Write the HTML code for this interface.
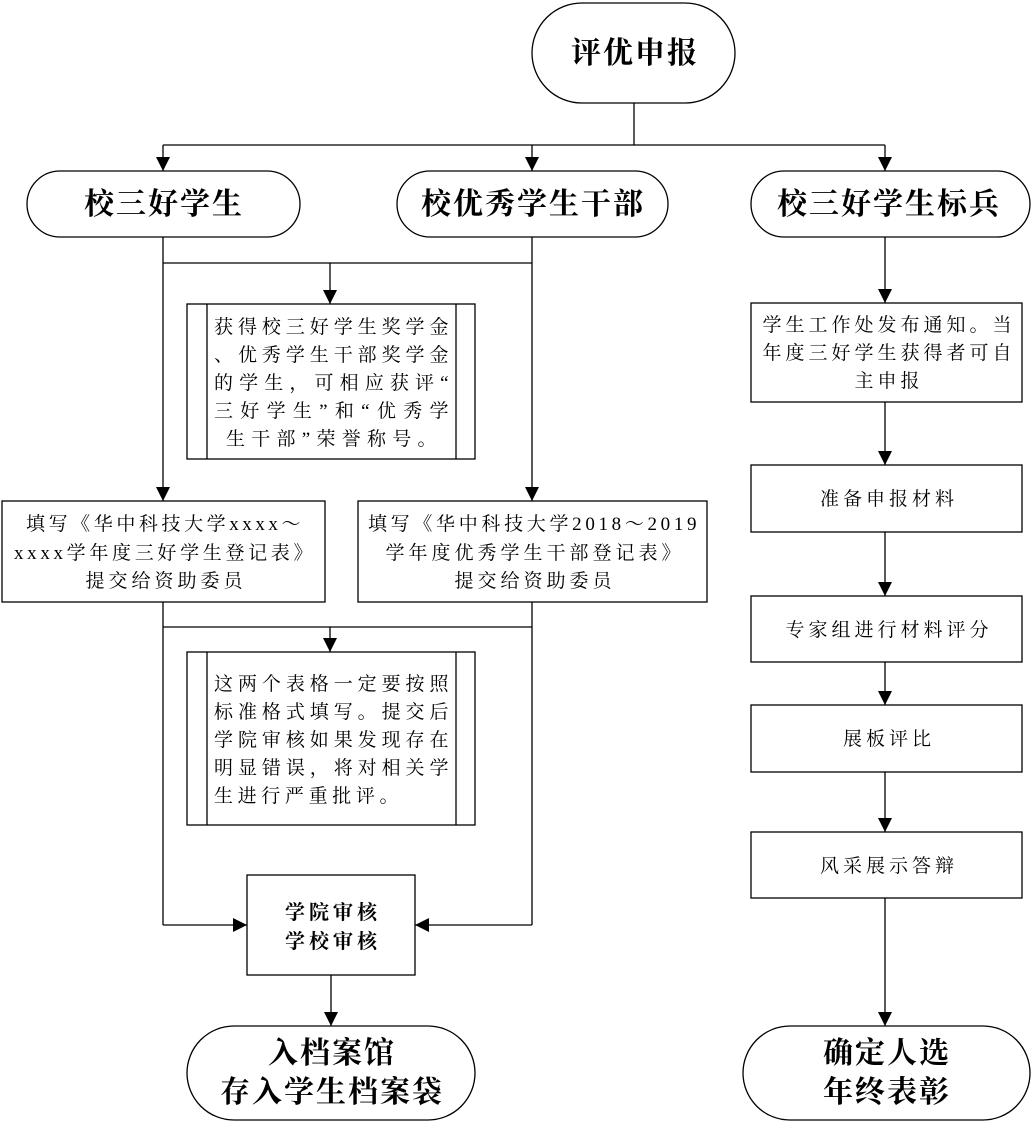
<!DOCTYPE html>
<html><head><meta charset="utf-8"><style>
body{margin:0;background:#fff}
svg text{font-family:"Liberation Serif","Noto Serif CJK SC",serif;fill:#000}
.t{font-size:30px;font-weight:bold;letter-spacing:2px}
.b{font-size:19px;letter-spacing:4px}
.n{font-size:19px;letter-spacing:1.5px}
.m{font-size:20px;font-weight:bold;letter-spacing:4px}
</style></head><body>
<svg width="1033" height="1123" viewBox="0 0 1033 1123" xmlns="http://www.w3.org/2000/svg">
<defs>
<marker id="h" viewBox="0 0 14 14" markerWidth="14" markerHeight="14" refX="14" refY="7" orient="auto" markerUnits="userSpaceOnUse"><path d="M0,0 L14,7 L0,14 z" fill="#000"/></marker></defs>
<g fill="none" stroke="#000" stroke-width="1.3">
<rect x="532" y="3" width="203" height="100" rx="50"/>
<rect x="27" y="171" width="273" height="66" rx="33"/>
<rect x="397" y="171" width="271" height="66" rx="33"/>
<rect x="751" y="171" width="279" height="66" rx="33"/>
<rect x="187" y="304" width="288" height="155"/><line x1="207" y1="304" x2="207" y2="459"/><line x1="456" y1="304" x2="456" y2="459"/>
<rect x="2" y="501" width="323" height="101"/>
<rect x="358" y="501" width="349" height="101"/>
<rect x="187" y="652" width="288" height="173"/><line x1="207" y1="652" x2="207" y2="825"/><line x1="456" y1="652" x2="456" y2="825"/>
<rect x="247" y="875" width="168" height="100"/>
<rect x="187" y="1026" width="288" height="94" rx="47"/>
<rect x="751" y="303" width="271" height="99"/>
<rect x="751" y="465" width="271" height="67"/>
<rect x="751" y="596" width="271" height="66"/>
<rect x="751" y="705" width="271" height="67"/>
<rect x="751" y="832" width="271" height="66"/>
<rect x="743" y="1026" width="287" height="94" rx="47"/>
<line x1="634" y1="103" x2="634" y2="145"/>
<line x1="163" y1="145" x2="885" y2="145"/>
<line x1="163" y1="145" x2="163" y2="171" marker-end="url(#h)"/>
<line x1="532" y1="145" x2="532" y2="171" marker-end="url(#h)"/>
<line x1="885" y1="145" x2="885" y2="171" marker-end="url(#h)"/>
<line x1="163" y1="263" x2="532" y2="263"/>
<line x1="330" y1="263" x2="330" y2="304" marker-end="url(#h)"/>
<line x1="163" y1="237" x2="163" y2="501" marker-end="url(#h)"/>
<line x1="532" y1="237" x2="532" y2="501" marker-end="url(#h)"/>
<line x1="163" y1="602" x2="163" y2="925"/>
<line x1="532" y1="602" x2="532" y2="925"/>
<line x1="163" y1="627" x2="532" y2="627"/>
<line x1="330" y1="627" x2="330" y2="652" marker-end="url(#h)"/>
<line x1="163" y1="925" x2="247" y2="925" marker-end="url(#h)"/>
<line x1="532" y1="925" x2="415" y2="925" marker-end="url(#h)"/>
<line x1="331" y1="975" x2="331" y2="1026" marker-end="url(#h)"/>
<line x1="885" y1="237" x2="885" y2="303" marker-end="url(#h)"/>
<line x1="885" y1="402" x2="885" y2="465" marker-end="url(#h)"/>
<line x1="885" y1="532" x2="885" y2="596" marker-end="url(#h)"/>
<line x1="885" y1="662" x2="885" y2="705" marker-end="url(#h)"/>
<line x1="885" y1="772" x2="885" y2="832" marker-end="url(#h)"/>
<line x1="885" y1="898" x2="885" y2="1026" marker-end="url(#h)"/>
</g>
<g text-anchor="middle">
<text class="t" x="635" y="63">评优申报</text>
<text class="t" x="164" y="214">校三好学生</text>
<text class="t" x="533" y="214">校优秀学生干部</text>
<text class="t" x="889" y="214">校三好学生标兵</text>
<text class="n" x="164" y="530" textLength="276" lengthAdjust="spacing">填写《华中科技大学xxxx～</text>
<text class="n" x="164" y="559" textLength="300" lengthAdjust="spacing">xxxx学年度三好学生登记表》</text>
<text class="b" x="166" y="587">提交给资助委员</text>
<text class="n" x="533" y="530" textLength="330" lengthAdjust="spacing">填写《华中科技大学2018～2019</text>
<text class="b" x="535" y="559">学年度优秀学生干部登记表》</text>
<text class="b" x="535" y="587">提交给资助委员</text>
<text class="m" x="333" y="919">学院审核</text>
<text class="m" x="333" y="948">学校审核</text>
<text class="t" x="332" y="1063">入档案馆</text>
<text class="t" x="332" y="1102">存入学生档案袋</text>
<text class="t" x="887" y="1063">确定人选</text>
<text class="t" x="887" y="1102">年终表彰</text>
<text class="b" x="889" y="331">学生工作处发布通知。当</text>
<text class="b" x="889" y="359">年度三好学生获得者可自</text>
<text class="b" x="889" y="387">主申报</text>
<text class="b" x="889" y="505">准备申报材料</text>
<text class="b" x="889" y="636">专家组进行材料评分</text>
<text class="b" x="889" y="745">展板评比</text>
<text class="b" x="889" y="872">风采展示答辩</text>
</g>
<g>
<text class="n" x="214" y="333" textLength="236">获得校三好学生奖学金</text>
<text class="n" x="214" y="361" textLength="236">、优秀学生干部奖学金</text>
<text class="n" x="214" y="389" textLength="236">的学生，可相应获评“</text>
<text class="n" x="214" y="417" textLength="236">三好学生”和“优秀学</text>
<text class="n" x="226" y="445" textLength="212">生干部”荣誉称号。</text>
<text class="n" x="214" y="690" textLength="236">这两个表格一定要按照</text>
<text class="n" x="214" y="718" textLength="236">标准格式填写。提交后</text>
<text class="n" x="214" y="746" textLength="236">学院审核如果发现存在</text>
<text class="n" x="214" y="774" textLength="236">明显错误，将对相关学</text>
<text class="n" x="214" y="802" textLength="186">生进行严重批评。</text>
</g>
</svg>
</body></html>
